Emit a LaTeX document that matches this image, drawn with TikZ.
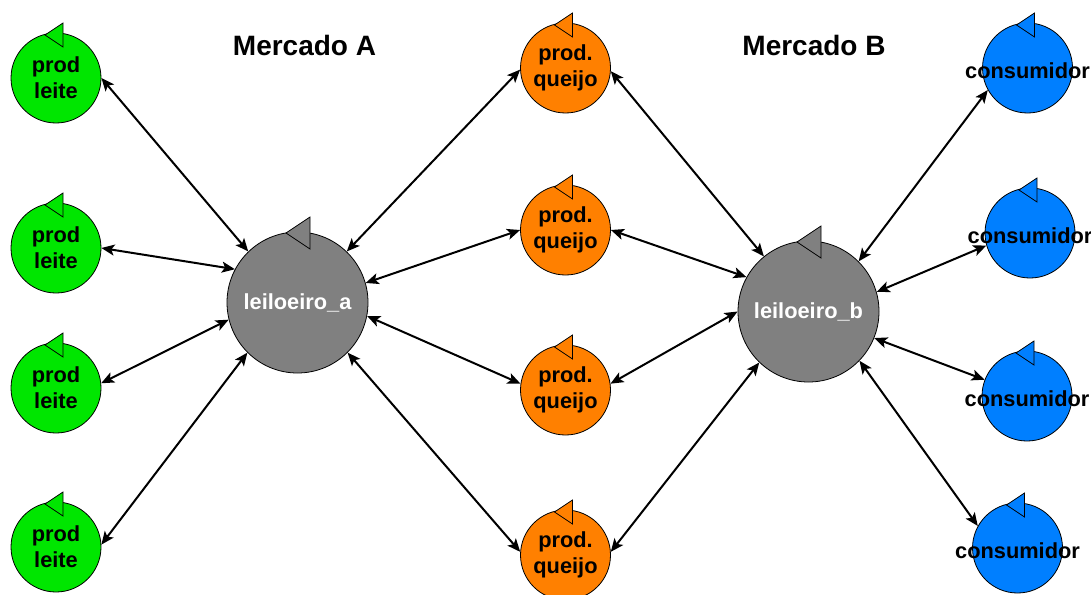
\documentclass[tikz,border=0pt]{standalone}
\usepackage{fontspec}
\setmainfont{Liberation Sans}
\usetikzlibrary{arrows.meta}

\definecolor{leitegreen}{RGB}{0,230,0}
\definecolor{queijoorange}{RGB}{255,128,0}
\definecolor{consblue}{RGB}{0,127,255}
\definecolor{auctgray}{RGB}{128,128,128}

\tikzset{
  agenttext/.style={font=\bfseries\fontsize{21.8}{26}\selectfont},
  agent/.style={circle, draw=black, line width=0.8pt, inner sep=0pt,
    minimum size=90pt, align=center, agenttext},
  bigagent/.style={agent, minimum size=141pt, text=white},
  consumer/.style={agent, fill=consblue,
    label={[agenttext, inner sep=0pt, yshift=-2.5pt]center:consumidor}},
  title/.style={anchor=base, font=\bfseries\fontsize{28}{33}\selectfont},
  link/.style={draw=black, line width=2pt,
    {Stealth[length=13pt,width=11pt,inset=3pt]}-{Stealth[length=13pt,width=11pt,inset=3pt]}},
  flag/.style={draw=black, line width=0.8pt, line join=miter},
}

% agent flag on top of a small circle
\newcommand{\smallflag}[2]{%
  \draw[flag, fill=#2, shift={(#1.center)}] (7,-55) -- (7,-31) -- (-11,-43) -- cycle;}
% agent flag on top of a large circle
\newcommand{\bigflag}[2]{%
  \draw[flag, fill=#2, shift={(#1.center)}] (12.5,-85.5) -- (12.5,-53.5) -- (-11.5,-69.5) -- cycle;}

\begin{document}
\begin{tikzpicture}[x=1pt,y=-1pt]
  \useasboundingbox (0,0) rectangle (1091,594);

  % titles
  \node[title] (ta) at (304.5,55.5) {Mercado A};
  \node[title] (tb) at (814,55.5) {Mercado B};

  % milk producers
  \node[agent, fill=leitegreen] (g1) at (56,78)  {prod\\leite};
  \node[agent, fill=leitegreen] (g2) at (56,248) {prod\\leite};
  \node[agent, fill=leitegreen] (g3) at (56,388) {prod\\leite};
  \node[agent, fill=leitegreen] (g4) at (56,547) {prod\\leite};

  % auctioneers
  \node[bigagent, fill=auctgray] (a) at (297.5,302.5) {leiloeiro\_a};
  \node[bigagent, fill=auctgray] (b) at (808.5,311.5) {leiloeiro\_b};

  % cheese producers
  \node[agent, fill=queijoorange] (o1) at (565.5,68)  {prod.\\queijo};
  \node[agent, fill=queijoorange] (o2) at (565.5,230) {prod.\\queijo};
  \node[agent, fill=queijoorange] (o3) at (565.5,390) {prod.\\queijo};
  \node[agent, fill=queijoorange] (o4) at (565.5,555) {prod.\\queijo};

  % consumers (label overflows the circle)
  \node[consumer] (c1) at (1027.5,68) {};
  \node[consumer] (c2) at (1030,233)  {};
  \node[consumer] (c3) at (1027,396)  {};
  \node[consumer] (c4) at (1017.5,548) {};

  % agent flags
  \foreach \n in {g1,g2,g3,g4} {\smallflag{\n}{leitegreen}}
  \foreach \n in {o1,o2,o3,o4} {\smallflag{\n}{queijoorange}}
  \foreach \n in {c1,c2,c3,c4} {\smallflag{\n}{consblue}}
  \bigflag{a}{auctgray}
  \bigflag{b}{auctgray}

  % market A
  \draw[link] (g1.0)   -- (a.134);
  \draw[link] (g2.0)   -- (a.152);
  \draw[link] (g3.6)   -- (a.194);
  \draw[link] (g4.3)   -- (a.225);
  \draw[link] (a.46)   -- (o1.182);
  \draw[link] (a.16)   -- (o2.180);
  \draw[link] (a.-11)  -- (o3.172);
  \draw[link] (a.-45)  -- (o4.176);

  % market B
  \draw[link] (o1.-4)  -- (b.129);
  \draw[link] (o2.0)   -- (b.151);
  \draw[link] (o3.8)   -- (b.180);
  \draw[link] (o4.4)   -- (b.226);
  \draw[link] (b.45)   -- (c1.209);
  \draw[link] (b.16)   -- (c2.196);
  \draw[link] (b.-22)  -- (c3.159);
  \draw[link] (b.-44)  -- (c4.151);
\end{tikzpicture}
\end{document}
